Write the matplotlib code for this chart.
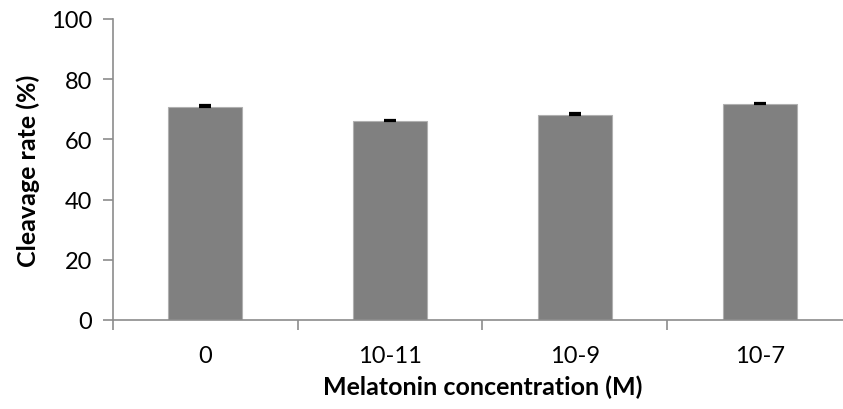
import matplotlib.pyplot as plt
import numpy as np

concentrations = ['0', '10-11', '10-9', '10-7']
cleavage = [70.8, 66.0, 68.2, 71.8]
cleavage_err = [0.5, 0.5, 0.5, 0.4]

plt.rcParams['font.family'] = ['Lato', 'DejaVu Sans']

fig = plt.figure(figsize=(8.43, 4.10), dpi=100)
ax = fig.add_axes([113/843, 89/410, 739/843, 301/410])

x = np.arange(len(concentrations))
ax.bar(x, cleavage, width=0.4, color='#808080', edgecolor='#b0b0b0', linewidth=0.8, zorder=2)
# only the upper half of the error bar shows above the bar
ax.errorbar(x, cleavage, yerr=[np.zeros(len(x)), cleavage_err], fmt='none', ecolor='black',
            elinewidth=1.0, capsize=4.3, capthick=1.6, zorder=3)

ax.set_xlim(-0.5, len(concentrations) - 0.5)
ax.set_ylim(0, 100)
ax.set_yticks(range(0, 101, 20))
ax.set_xticks(x)
ax.set_xticklabels(concentrations)
ax.set_xticks(np.arange(-0.5, len(concentrations), 1), minor=True)

for s in ['top', 'right']:
    ax.spines[s].set_visible(False)
for s in ['left', 'bottom']:
    ax.spines[s].set_color('#8c8c8c')
    ax.spines[s].set_linewidth(1.2)

ax.tick_params(axis='x', which='major', length=0, pad=18, labelsize=17)
ax.tick_params(axis='x', which='minor', length=7, color='#8c8c8c', width=1.2)
ax.tick_params(axis='y', length=7, color='#8c8c8c', width=1.2, labelsize=17, pad=8)

ax.set_xlabel('Melatonin concentration (M)', fontsize=18, fontweight='bold', labelpad=6)
ax.set_ylabel('Cleavage rate (%)', fontsize=18, fontweight='bold', labelpad=8)

plt.savefig('out.png', dpi=100)
